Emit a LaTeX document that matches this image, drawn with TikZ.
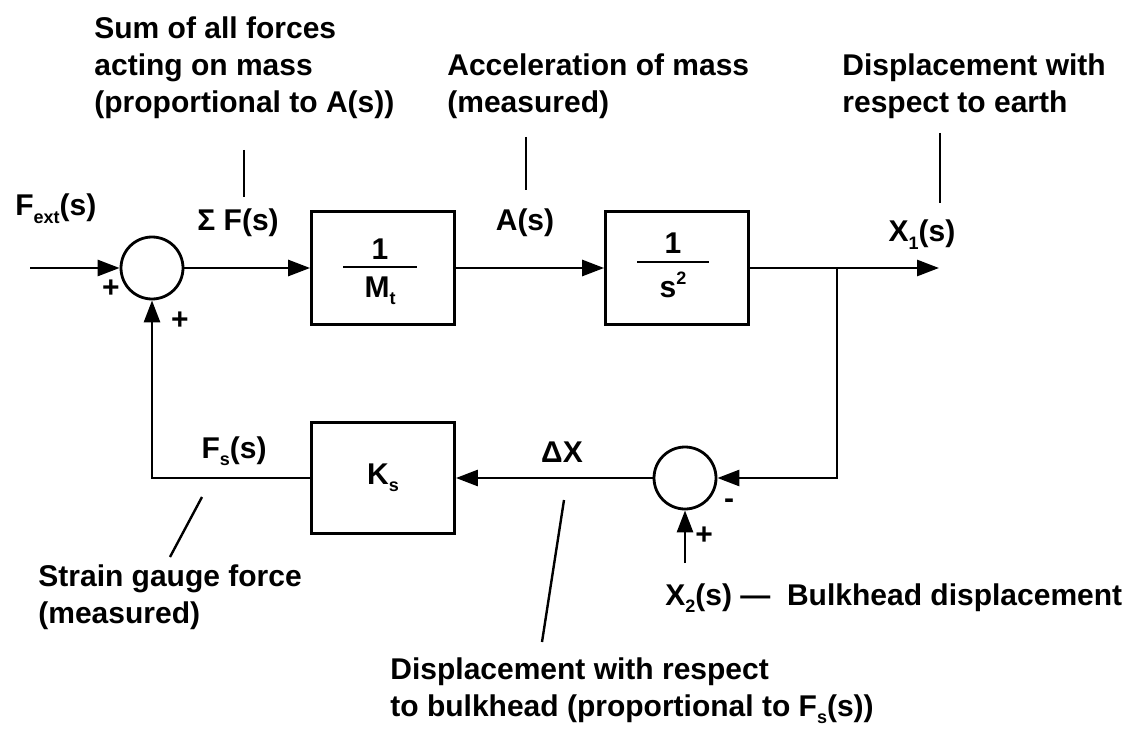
\documentclass[tikz,border=0pt]{standalone}
\usepackage{fontspec}
\setmainfont{Liberation Sans}
\usetikzlibrary{arrows.meta}
\newcommand\lowsub[1]{\raisebox{-.45ex}{\fontsize{9}{9}\selectfont #1}}
\newcommand\highsup[1]{\raisebox{.85ex}{\fontsize{9}{9}\selectfont #1}}
\tikzset{
 blk/.style={draw,line width=1.4pt,minimum width=71.5pt,minimum height=56.5pt,inner sep=0pt},
 sumnode/.style={draw,circle,line width=1.4pt,minimum size=31pt,inner sep=0pt},
 wire/.style={line width=1.4pt},
 sig/.style={wire,-{Triangle[length=11pt,width=8pt]}},
 lead/.style={line width=1.2pt},
 txt/.style={font=\bfseries\fontsize{15}{18.5}\selectfont,inner sep=0pt},
}
\begin{document}
\begin{tikzpicture}[x=.5pt,y=-.5pt]
 \useasboundingbox (0,0) rectangle (1138,732);
 %% forward path: junction, 1/Mt, 1/s^2
 \node[sumnode] (sumF) at (152,268) {};
 \node[blk] (mass) at (383,268) {};
 \node[blk] (integ) at (677,268) {};
 \node[txt] (massN) at (380,249) {1};
 \draw[wire] (343,267) -- (417,267);
 \node[txt] (massD) at (380,291) {M\lowsub{t}};
 \node[txt] (integN) at (673,243) {1};
 \draw[wire] (637,262) -- (709,262);
 \node[txt] (integD) at (673,285) {s\highsup{2}};
 %% feedback path: junction, Ks
 \node[sumnode] (sumX) at (685,478) {};
 \node[blk,minimum height=55.5pt] (spring) at (383,478) {};
 \node[txt] (springT) at (383,478) {K\lowsub{s}};
 %% free ends
 \coordinate (fin) at (30,268);
 \coordinate (xout) at (939,268);
 \coordinate (tap) at (837,268);
 \coordinate (xin) at (685,563);
 %% signal lines
 \draw[sig] (fin) -- (sumF);
 \draw[sig] (sumF) -- (mass);
 \draw[sig] (mass) -- (integ);
 \draw[sig] (integ) -- (xout);
 \draw[sig] (tap) |- (sumX.east);
 \draw[sig] (sumX) -- (spring);
 \draw[sig] (spring.west) -| (sumF.south);
 \draw[sig] (xin) -- (sumX);
 %% signal names and signs
 \node[txt,anchor=base west] (fext) at (15,216) {F\lowsub{ext}(s)};
 \node[txt] (pl1) at (111,289) {+};
 \node[txt] (pl2) at (180,321) {+};
 \node[txt,anchor=base west] (sigF) at (197,231) {Σ F(s)};
 \node[txt,anchor=base] (accl) at (525,231) {A(s)};
 \node[txt,anchor=base] (xone) at (922,242) {X\lowsub{1}(s)};
 \node[txt,anchor=base] (fsl) at (234,458) {F\lowsub{s}(s)};
 \node[txt,anchor=base] (dxl) at (562,462) {ΔX};
 \node[txt] (mi) at (729,504) {-};
 \node[txt] (pl3) at (704,536) {+};
 \node[txt,anchor=base west] (bulk) at (665,605) {X\lowsub{2}(s)~---~~Bulkhead displacement};
 %% notes (base = last line)
 \node[txt,anchor=base west,align=left] (sumNote) at (94,113) {Sum of all forces\\acting on mass\\(proportional to A(s))};
 \node[txt,anchor=base west,align=left] (accNote) at (447,113) {Acceleration of mass\\(measured)};
 \node[txt,anchor=base west,align=left] (earthNote) at (842,113) {Displacement with\\respect to earth};
 \node[txt,anchor=base west,align=left] (gaugeNote) at (38,623) {Strain gauge force\\(measured)};
 \node[txt,anchor=base west,align=left] (bulkNote) at (390,716) {Displacement with respect\\to bulkhead (proportional to F\lowsub{s}(s))};
 %% leaders
 \coordinate (sfA) at (244,150); \coordinate (sfB) at (244,197);
 \coordinate (acA) at (526,137); \coordinate (acB) at (526,190);
 \coordinate (xoA) at (940,133); \coordinate (xoB) at (940,203);
 \coordinate (fsA) at (202,497); \coordinate (fsB) at (170,557);
 \coordinate (dxA) at (564,500); \coordinate (dxB) at (542,642);
 \draw[lead] (sfA) -- (sfB);
 \draw[lead] (acA) -- (acB);
 \draw[lead] (xoA) -- (xoB);
 \draw[lead] (fsA) -- (fsB);
 \draw[lead] (dxA) -- (dxB);
\end{tikzpicture}
\end{document}
